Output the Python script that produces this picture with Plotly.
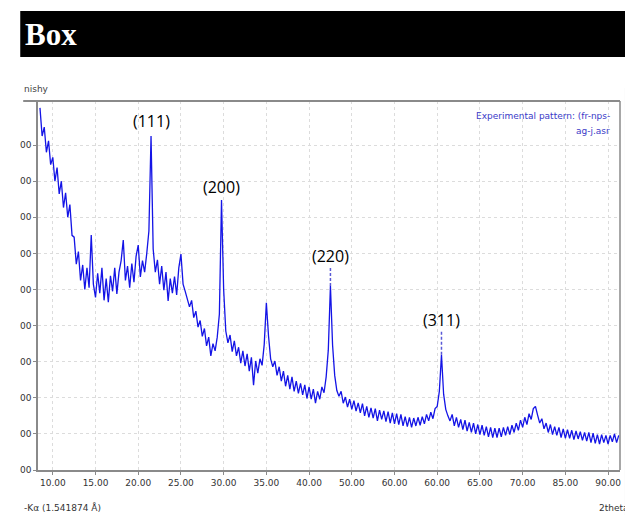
import plotly.graph_objects as go

# ---- data ----
two_theta_start = 8.5
two_theta_step = 0.25
counts = [
    1003, 925,
    950, 880, 912, 846,
    866, 800, 838, 765,
    800, 727, 768, 700,
    735, 650, 645, 570,
    605, 525, 568, 500,
    560, 505, 651, 515,
    478, 545, 490, 560,
    470, 530, 465, 538,
    495, 560, 488, 548,
    580, 637, 525, 565,
    505, 572, 520, 592,
    623, 535, 580, 548,
    600, 662, 925, 612,
    548, 582, 515, 565,
    498, 548, 468, 530,
    490, 536, 485, 560,
    598, 515, 495, 470,
    452, 470, 422, 440,
    396, 414, 370, 392,
    344, 368, 316, 350,
    330, 368, 432, 748,
    500, 385, 352, 374,
    328, 358, 316, 340,
    296, 330, 288, 322,
    274, 312, 235, 302,
    268, 308, 290, 348,
    463, 372, 308, 286,
    302, 262, 286, 246,
    274, 232, 262, 224,
    258, 218, 246, 212,
    240, 208, 236, 198,
    230, 196, 224, 185,
    218, 196, 230, 214,
    258, 332, 510, 346,
    262, 220, 204, 218,
    185, 202, 174, 196,
    168, 192, 163, 186,
    158, 184, 150, 176,
    146, 172, 144, 170,
    136, 166, 140, 164,
    134, 162, 130, 158,
    128, 156, 126, 154,
    122, 148, 120, 146,
    118, 144, 122, 146,
    124, 148, 128, 154,
    136, 160, 142, 170,
    176, 218, 319, 210,
    168, 150, 136, 154,
    122, 146, 118, 140,
    112, 138, 108, 132,
    104, 130, 100, 126,
    98, 124, 96, 120,
    92, 118, 90, 116,
    90, 116, 92, 118,
    96, 120, 98, 124,
    104, 130, 110, 138,
    118, 146, 126, 156,
    140, 170, 176, 152,
    130, 142, 114, 130,
    104, 126, 98, 120,
    96, 118, 90, 114,
    88, 112, 88, 110,
    84, 108, 86, 106,
    82, 104, 80, 104,
    76, 102, 74, 98,
    72, 98, 76, 96,
    72, 96, 78, 100,
    76, 96,
]
two_theta = [two_theta_start + two_theta_step * i for i in range(len(counts))]

x_tick_vals = [10, 15, 20, 25, 30, 35, 40, 45, 50, 55, 60, 65, 70, 75]
x_tick_text = ["10.00", "15.00", "20.00", "25.00", "30.00", "35.00", "40.00",
               "50.00", "60.00", "60.00", "65.00", "70.00", "85.00", "90.00"]
y_tick_vals = [0, 100, 200, 300, 400, 500, 600, 700, 800, 900]
y_tick_text = ["00"] * len(y_tick_vals)

peak_labels = ["(111)", "(200)", "(220)", "(311)"]
peak_x = [21.5, 29.75, 42.5, 55.5]
peak_top = [925, 748, 510, 319]
label_y = [968, 785, 593, 416]
marker_peaks = [2, 3]  # peaks with a dashed marker line

# ---- layout geometry (page pixels; the page body adds an 8px margin) ----
OFF = 8
PAGE_W, PAGE_H = 633, 515
W, H = PAGE_W - OFF, PAGE_H - OFF
L, R, T, B = 31, 621, 101, 470  # plot box in page pixels


def px(xp):
    return (xp - L) / (R - L)


def py(yp):
    return (B - yp) / (B - T)


fig = go.Figure()
fig.add_trace(go.Scatter(
    x=two_theta, y=counts, mode="lines",
    line=dict(color="#1414e6", width=1.3),
    hoverinfo="skip", showlegend=False,
))

shapes = [
    # black header bar
    dict(type="rect", xref="paper", yref="paper", x0=px(13), x1=px(640),
         y0=py(57), y1=py(11), fillcolor="black", line=dict(width=0), layer="above"),
    # top frame line extending left
    dict(type="line", xref="paper", yref="paper", x0=px(16), x1=1, y0=1, y1=1,
         line=dict(color="#8a8a8a", width=2)),
    # right frame
    dict(type="line", xref="paper", yref="paper", x0=1, x1=1, y0=0, y1=1,
         line=dict(color="#8a8a8a", width=1.5)),
    # far right window edge
    dict(type="line", xref="paper", yref="paper", x0=px(627), x1=px(627),
         y0=py(520), y1=py(88), line=dict(color="#d2d2d2", width=2)),
]
for i in marker_peaks:
    shapes.append(dict(type="line", xref="x", yref="y", x0=peak_x[i], x1=peak_x[i],
                       y0=peak_top[i], y1=label_y[i] - 32,
                       line=dict(color="#5a5ad6", width=1.5, dash="3px,2px")))

annotations = [
    dict(text="<b>Box</b>", xref="paper", yref="paper", x=px(16), y=py(34),
         xanchor="left", yanchor="middle", showarrow=False,
         font=dict(family="Liberation Serif", size=31, color="white")),
    dict(text="nishy", xref="paper", yref="paper", x=px(15), y=py(89),
         xanchor="left", yanchor="middle", showarrow=False,
         font=dict(family="DejaVu Sans", size=9, color="#444")),
    dict(text="Experimental pattern: (fr-nps-", xref="paper", yref="paper",
         x=px(613), y=py(116), xanchor="right", yanchor="middle", showarrow=False,
         font=dict(family="DejaVu Sans", size=9, color="#3a3ac8")),
    dict(text="ag-j.asr", xref="paper", yref="paper",
         x=px(613), y=py(131), xanchor="right", yanchor="middle", showarrow=False,
         font=dict(family="DejaVu Sans", size=9, color="#3a3ac8")),
    dict(text="-Kα (1.541874 Å)", xref="paper", yref="paper", x=px(15), y=py(507),
         xanchor="left", yanchor="middle", showarrow=False,
         font=dict(family="DejaVu Sans", size=9, color="#333")),
    dict(text="2theta", xref="paper", yref="paper", x=px(632), y=py(508),
         xanchor="right", yanchor="middle", showarrow=False,
         font=dict(family="DejaVu Sans", size=9, color="#333")),
]
for lab, xv, yv in zip(peak_labels, peak_x, label_y):
    annotations.append(dict(text=lab, x=xv, y=yv, xref="x", yref="y",
                            showarrow=False, xanchor="center", yanchor="middle",
                            font=dict(family="Open Sans", size=16, color="#000")))

x_lo = 10 + (L - 46) * 5 / 43.3
x_hi = 10 + (R - 46) * 5 / 43.3
y_hi = (B - T) * 100 / 36.1

fig.update_layout(
    width=W, height=H,
    margin=dict(l=L - OFF, r=PAGE_W - R, t=T - OFF, b=PAGE_H - B),
    paper_bgcolor="white", plot_bgcolor="white",
    shapes=shapes, annotations=annotations,
    xaxis=dict(range=[x_lo, x_hi], tickvals=x_tick_vals, ticktext=x_tick_text,
               showgrid=True, gridcolor="#dcdcdc", griddash="dot", gridwidth=1,
               showline=True, linecolor="#8a8a8a", linewidth=1.5,
               ticks="outside", ticklen=3, tickcolor="#8a8a8a",
               tickfont=dict(family="DejaVu Sans", size=9, color="#333"),
               zeroline=False, fixedrange=True),
    yaxis=dict(range=[0, y_hi], tickvals=y_tick_vals, ticktext=y_tick_text,
               showgrid=True, gridcolor="#dcdcdc", griddash="dot", gridwidth=1,
               showline=True, linecolor="#8a8a8a", linewidth=1.5,
               ticks="outside", ticklen=3, tickcolor="#8a8a8a",
               tickfont=dict(family="DejaVu Sans", size=9, color="#333"),
               zeroline=False, fixedrange=True),
)

fig.write_html("out.html", config={"displayModeBar": False})
